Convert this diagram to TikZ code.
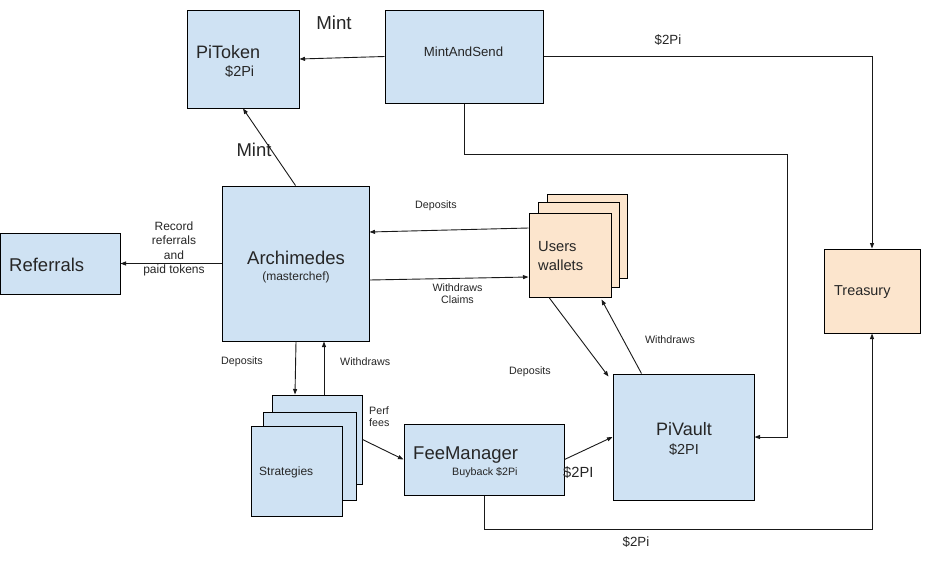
\documentclass[tikz,border=0pt]{standalone}
\usepackage{fontspec}
\setmainfont{Liberation Sans}
\usetikzlibrary{arrows.meta,calc}
\definecolor{bluefill}{HTML}{CFE2F3}
\definecolor{orangefill}{HTML}{FCE5CD}
\newcommand{\fs}[1]{\fontsize{#1}{#1}\selectfont}
\tikzset{
  box/.style={draw=black, line width=1pt, fill=bluefill, inner sep=0pt, anchor=center},
  obox/.style={box, fill=orangefill},
  lbl/.style={inner sep=0pt, text=black!85},
  conn/.style={line width=0.9pt, draw=black!90},
  arr/.style={conn, -{Triangle[length=5.5pt,width=4pt]}}
}
\begin{document}
\begin{tikzpicture}[x=1pt,y=-1pt]
\useasboundingbox[fill=white] (0,0) rectangle (929,563);

% boxes
\node[box, minimum width=112, minimum height=98] (pitoken) at (243,59) {};
\node[box, minimum width=158, minimum height=93] (mas) at (464,56.5) {};
\node[box, minimum width=119.5, minimum height=61] (ref) at (60.25,263.5) {};
\node[box, minimum width=147, minimum height=155] (arch) at (295.5,263.5) {};
\node[obox, minimum width=80, minimum height=84] (users3) at (587,236) {};
\node[obox, minimum width=81, minimum height=85] (users2) at (578.5,244.5) {};
\node[obox, minimum width=82, minimum height=84] (users) at (570,255) {};
\node[obox, minimum width=96, minimum height=84] (treasury) at (872,291) {};
\node[box, minimum width=90, minimum height=89] (strat3) at (317,439.5) {};
\node[box, minimum width=93, minimum height=88] (strat2) at (309.5,456) {};
\node[box, minimum width=91, minimum height=90] (strat) at (296.5,471) {};
\node[box, minimum width=160, minimum height=71] (fee) at (484,459.5) {};
\node[box, minimum width=141, minimum height=126] (pivault) at (683.5,437) {};

% box texts
\node[lbl, anchor=west, font=\fs{18}] (tpitoken) at (196,52) {PiToken};
\node[lbl, anchor=west, font=\fs{14.5}] (tpitoken2) at (225,72) {\$2Pi};
\node[lbl, font=\fs{13.2}] (tmas) at (463.5,52) {MintAndSend};
\node[lbl, anchor=west, font=\fs{18.5}] (tref) at (9,265) {Referrals};
\node[lbl, font=\fs{18.5}] (tarch) at (296,258) {Archimedes};
\node[lbl, font=\fs{12}] (tarch2) at (296,277) {(masterchef)};
\node[lbl, anchor=west, font=\fs{14.7}] (tusers) at (538,247) {Users};
\node[lbl, anchor=west, font=\fs{14.7}] (tusers2) at (538,265) {wallets};
\node[lbl, anchor=west, font=\fs{14.4}] (ttreas) at (834,292) {Treasury};
\node[lbl, anchor=west, font=\fs{12}] (tstrat) at (259,472) {Strategies};
\node[lbl, anchor=west, font=\fs{18.5}] (tfee) at (413,455) {FeeManager};
\node[lbl, anchor=west, font=\fs{10.7}] (tfee2) at (452,473) {Buyback \$2Pi};
\node[lbl, font=\fs{18}] (tpiv) at (684,429) {PiVault};
\node[lbl, font=\fs{14.5}] (tpiv2) at (684,450) {\$2PI};

% connector labels
\node[lbl, font=\fs{18.7}] (lmint1) at (334,23) {Mint};
\node[lbl, font=\fs{18.5}] (lmint2) at (254,150) {Mint};
\node[lbl, font=\fs{13.3}] (l2pitop) at (668,40) {\$2Pi};
\node[lbl, font=\fs{13.3}] (l2pibot) at (636,542) {\$2Pi};
\node[lbl, font=\fs{12}, align=center] (lrec) at (174,249) {Record\\[2.3pt]referrals\\[2.3pt]and\\[2.3pt]paid tokens};
\node[lbl, font=\fs{10.7}] (ldep1) at (436,206) {Deposits};
\node[lbl, font=\fs{10.7}, align=center] (lwc) at (457.5,294) {Withdraws\\[1.3pt]Claims};
\node[lbl, font=\fs{10.7}] (ldep2) at (242,362) {Deposits};
\node[lbl, anchor=west, font=\fs{10.7}] (lwd2) at (340,362) {Withdraws};
\node[lbl, font=\fs{10.7}] (ldep3) at (530,372) {Deposits};
\node[lbl, font=\fs{10.7}] (lwd3) at (670,340) {Withdraws};
\node[lbl, anchor=west, font=\fs{10.7}, align=left] (lperf) at (369,417) {Perf\\[1.3pt]fees};
\node[lbl, anchor=west, font=\fs{14.7}] (l2pifee) at (563,473) {\$2PI};

% helper coordinates
\coordinate (c1) at (787,154);
\coordinate (c2) at (872,529);

% connectors
\draw[arr] (mas.west) -- (pitoken.east);
\draw[arr] (arch.north) -- (pitoken.south);
\draw[arr] (arch.west) -- (ref.east);
\draw[arr] (mas.east) -| (treasury.north);
\draw[arr] (mas.south) |- (c1) |- (pivault.east);
\draw[arr] (fee.south) |- (c2) -- (treasury.south);
\draw[arr] ([yshift=27]users.west) -- ([yshift=31.5]arch.east);
\draw[arr] ([yshift=-16.5]arch.east) -- ([yshift=-22]users.west);
\draw[arr] ([xshift=-21]users.south) -- ([xshift=-4,yshift=-3]pivault.north west);
\draw[arr] ([xshift=29]pivault.north west) -- ([xshift=-10,yshift=-2]users.south east);
\draw[arr] ([xshift=0.5]arch.south) -- ([xshift=-22]strat3.north);
\draw[arr] ([xshift=7]strat3.north) -- ([xshift=28.5]arch.south);
\draw[arr] (strat3.east) -- (fee.west);
\draw[arr] (fee.east) -- (pivault.west);
\end{tikzpicture}
\end{document}
